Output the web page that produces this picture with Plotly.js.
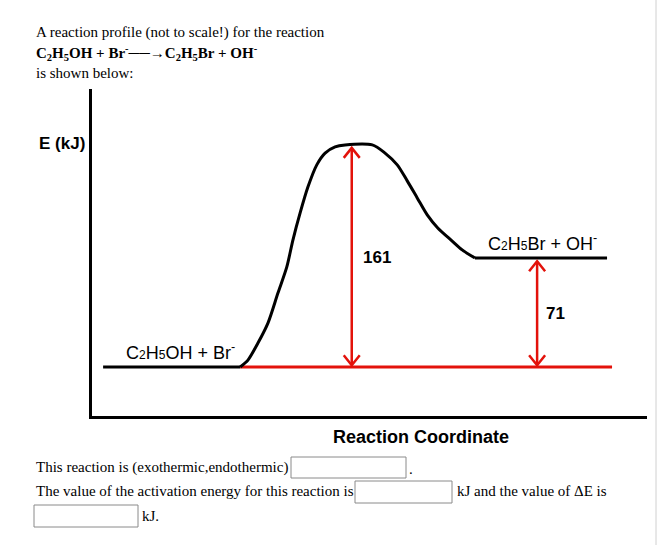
<!DOCTYPE html>
<html>
<head>
<meta charset="utf-8">
<script src="https://cdn.plot.ly/plotly-3.0.1.min.js"></script>
<style>html,body{margin:0;padding:0;background:#fff;}#chart{width:657px;height:545px;}</style>
</head>
<body>
<div id="chart"></div>
<script>
// ---- data (profile drawn "not to scale": reaction coordinate 0-100, drawn level 0-100) ----
var reactantLevelX = [2.0, 26.7];
var reactantLevelY = [15.0, 15.0];
var baselineX = [26.7, 93.7];
var baselineY = [15.0, 15.0];
var curveX = [26.7, 28.1, 29.9, 31.7, 33.5, 35.1, 36.2, 37.5, 38.9, 40.5, 42.0, 43.8, 45.6, 50.5, 52.8, 55.0, 56.8, 58.6, 60.4, 62.3, 64.9, 66.7, 69.0];
var curveY = [15.0, 17.1, 22.3, 28.4, 37.6, 45.6, 53.8, 62.1, 70.0, 76.8, 80.4, 82.3, 82.9, 82.9, 80.4, 76.8, 71.9, 66.7, 61.5, 57.5, 53.5, 50.8, 48.3];
var productLevelX = [69.0, 92.8];
var productLevelY = [48.3, 48.3];
var arrowX = [46.8, 80.2];
var arrowBottom = [15.5, 15.5];
var arrowTop = [82.0, 47.3];
var arrowValues = ["161", "71"];
var sm = function(d){ return '<span style="font-size:12px">' + d + '</span>'; };
var speciesLabels = ["C" + sm("2") + "H" + sm("5") + "OH + Br<sup>-</sup>", "C" + sm("2") + "H" + sm("5") + "Br + OH<sup>-</sup>"];

// ---- layout helpers ----
var W = 657, H = 545;
function px(x){ return x / W; }
function py(y){ return 1 - y / H; }
var xDom = [px(92), px(647)], yDom = [py(416), py(89)];
var xScale = (647 - 92) / 100, yScale = (416 - 89) / 100; // pixels per data unit
var RED = '#e3120b';

var traces = [];
traces.push({x: reactantLevelX, y: reactantLevelY, mode: 'lines', line: {color: '#000', width: 3}});
traces.push({x: baselineX, y: baselineY, mode: 'lines', line: {color: RED, width: 3}});
traces.push({x: curveX, y: curveY, mode: 'lines', line: {color: '#000', width: 3, shape: 'spline', smoothing: 0.8}});
traces.push({x: productLevelX, y: productLevelY, mode: 'lines', line: {color: '#000', width: 3}});

// double-headed arrows built from arrow arrays
var headW = 8 / xScale, headH = 10 / yScale;
for (var i = 0; i < arrowX.length; i++) {
  var ax = arrowX[i], b = arrowBottom[i], t = arrowTop[i];
  traces.push({
    x: [ax, ax, null, ax - headW, ax, ax + headW, null, ax - headW, ax, ax + headW],
    y: [b, t, null, t - headH, t, t - headH, null, b + headH, b, b + headH],
    mode: 'lines', line: {color: RED, width: 2.5}, connectgaps: false
  });
}

var serif = 'Liberation Serif, Times New Roman, serif';
var sans = 'Liberation Sans, Arial, sans-serif';
var ann = [];
function pt(text, x, y, size, opts) {
  var a = {text: text, xref: 'paper', yref: 'paper', x: px(x), y: py(y), xanchor: 'left', yanchor: 'middle',
    showarrow: false, font: {family: serif, size: size || 15, color: '#000'}};
  for (var k in (opts || {})) a[k] = opts[k];
  ann.push(a);
}
pt('A reaction profile (not to scale!) for the reaction', 34, 33, 15);
pt('<b>C<sub>2</sub>H<sub>5</sub>OH + Br<sup>-</sup></b>──→<b>C<sub>2</sub>H<sub>5</sub>Br + OH<sup>-</sup></b>', 34, 53, 15);
pt('is shown below:', 34, 73, 15);
pt('This reaction is (exothermic,endothermic)', 34, 467, 15);
pt('.', 407, 469, 15);
pt('The value of the activation energy for this reaction is', 34, 491, 15);
pt('kJ and the value of ΔE is', 455, 491, 15);
pt('kJ.', 140, 516, 15);

ann.push({text: '<b>E (kJ)</b>', xref: 'paper', yref: 'paper', x: px(87), y: py(143), xanchor: 'right', yanchor: 'middle',
  showarrow: false, font: {family: sans, size: 17, color: '#000'}});
ann.push({text: '<b>Reaction Coordinate</b>', xref: 'paper', yref: 'paper', x: px(421), y: py(437), xanchor: 'center', yanchor: 'middle',
  showarrow: false, font: {family: sans, size: 18, color: '#000'}});

// species labels
ann.push({text: speciesLabels[0], xref: 'x', yref: 'y', x: reactantLevelX[1] - 0.5, y: reactantLevelY[0], xanchor: 'right', yanchor: 'bottom',
  yshift: 2, showarrow: false, font: {family: sans, size: 18, color: '#000'}});
ann.push({text: speciesLabels[1], xref: 'x', yref: 'y', x: productLevelX[1] - 1.5, y: productLevelY[0], xanchor: 'right', yanchor: 'bottom',
  yshift: 2, showarrow: false, font: {family: sans, size: 18, color: '#000'}});
// arrow values
ann.push({text: '<b>' + arrowValues[0] + '</b>', xref: 'x', yref: 'y', x: arrowX[0], y: 48.6, xanchor: 'left', yanchor: 'middle',
  xshift: 9, showarrow: false, font: {family: sans, size: 17, color: '#000'}});
ann.push({text: '<b>' + arrowValues[1] + '</b>', xref: 'x', yref: 'y', x: arrowX[1], y: 31.2, xanchor: 'left', yanchor: 'middle',
  xshift: 7, showarrow: false, font: {family: sans, size: 17, color: '#000'}});

var shapes = [];
function box(x0, x1, y0, y1) {
  shapes.push({type: 'rect', xref: 'paper', yref: 'paper', x0: px(x0), x1: px(x1), y0: py(y1), y1: py(y0),
    line: {color: '#8a8a8a', width: 1}, fillcolor: '#fff'});
}
box(291, 406, 457, 478);
box(355, 452, 481, 503);
box(34, 138, 505, 527);
shapes.push({type: 'line', xref: 'paper', yref: 'paper', x0: px(656), x1: px(656), y0: 0, y1: 1,
  line: {color: '#d0d0d0', width: 1}});

var layout = {
  width: W, height: H, margin: {l: 0, r: 0, t: 0, b: 0},
  paper_bgcolor: '#fff', plot_bgcolor: '#fff', showlegend: false,
  xaxis: {domain: xDom, range: [0, 100], showline: true, linecolor: '#000', linewidth: 3, showgrid: false,
    zeroline: false, showticklabels: false, ticks: '', fixedrange: true},
  yaxis: {domain: yDom, range: [0, 100], showline: true, linecolor: '#000', linewidth: 3, showgrid: false,
    zeroline: false, showticklabels: false, ticks: '', fixedrange: true},
  annotations: ann, shapes: shapes
};
Plotly.newPlot('chart', traces, layout, {displayModeBar: false, staticPlot: true});
</script>
</body>
</html>
